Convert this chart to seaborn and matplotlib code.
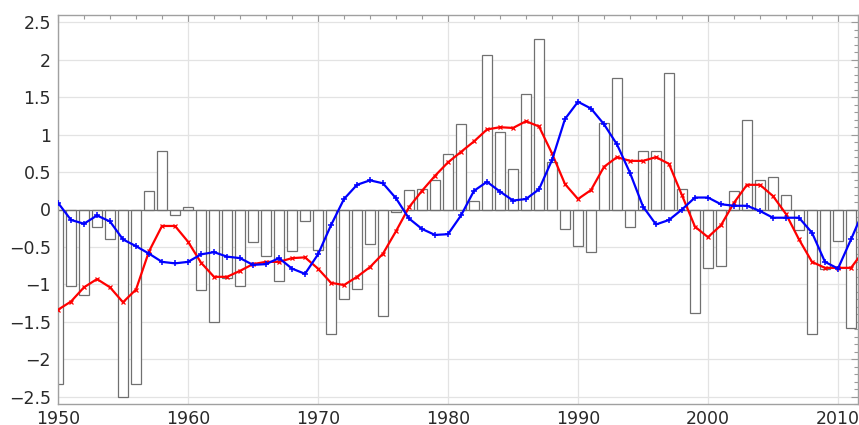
import numpy as np
import pandas as pd
import matplotlib
matplotlib.use("Agg")
import matplotlib.pyplot as plt
import seaborn as sns
from matplotlib.ticker import MultipleLocator

years = list(range(1950, 2012))
bar_vals = [-2.33, -1.02, -1.14, -0.24, -0.40, -2.51, -2.33, 0.25, 0.78, -0.07,
            0.04, -1.07, -1.51, -0.91, -1.02, -0.43, -0.62, -0.96, -0.55, -0.16,
            -0.54, -1.67, -1.20, -1.06, -0.46, -1.43, -0.03, 0.26, 0.27, 0.39,
            0.74, 1.14, 0.12, 2.06, 1.03, 0.54, 1.54, 2.28, 0.64, -0.26,
            -0.49, -0.57, 1.15, 1.76, -0.23, 0.78, 0.78, 1.82, 0.28, -1.38,
            -0.78, -0.75, 0.25, 1.20, 0.40, 0.44, 0.20, -0.28, -1.67, -0.80,
            -0.42, -1.59]

line_years = list(range(1950, 2013))
red_vals = [-1.34, -1.23, -1.04, -0.93, -1.04, -1.24, -1.07, -0.56, -0.22, -0.22,
            -0.43, -0.71, -0.90, -0.90, -0.82, -0.73, -0.70, -0.70, -0.65, -0.64,
            -0.79, -0.98, -1.01, -0.90, -0.77, -0.59, -0.29, 0.03, 0.25, 0.45,
            0.63, 0.77, 0.91, 1.07, 1.10, 1.09, 1.18, 1.11, 0.75, 0.34,
            0.14, 0.26, 0.57, 0.70, 0.65, 0.65, 0.70, 0.61, 0.19, -0.23,
            -0.37, -0.21, 0.09, 0.33, 0.33, 0.18, -0.06, -0.40, -0.70, -0.78,
            -0.78, -0.78, -0.55]
blue_vals = [0.09, -0.14, -0.19, -0.08, -0.16, -0.40, -0.49, -0.59, -0.70, -0.72,
             -0.70, -0.60, -0.57, -0.63, -0.65, -0.74, -0.73, -0.65, -0.79, -0.86,
             -0.60, -0.21, 0.14, 0.33, 0.39, 0.35, 0.15, -0.12, -0.26, -0.34,
             -0.33, -0.08, 0.25, 0.37, 0.24, 0.12, 0.14, 0.27, 0.66, 1.21,
             1.44, 1.35, 1.14, 0.87, 0.49, 0.04, -0.20, -0.14, 0.00, 0.16,
             0.16, 0.07, 0.05, 0.05, -0.02, -0.11, -0.11, -0.11, -0.31, -0.70,
             -0.79, -0.40, 0.00]

sns.set_style("white")
plt.rcParams['font.family'] = ['DejaVu Sans']

fig = plt.figure(figsize=(8.59, 4.25), dpi=100)
ax = fig.add_axes([58 / 859, 1 - 404 / 425, 800 / 859, 389 / 425])

bars_df = pd.DataFrame({"year": years, "value": bar_vals})
sns.barplot(data=bars_df, x="year", y="value", native_scale=True, width=0.82,
            color="white", saturation=1, edgecolor="#707070", linewidth=0.9,
            errorbar=None, ax=ax, zorder=2)
ax.axhline(0, color="#707070", lw=0.9, zorder=2.5)

lines_df = pd.DataFrame({"year": line_years, "red": red_vals, "blue": blue_vals})
sns.lineplot(data=lines_df, x="year", y="red", color="red", marker="x",
             markersize=3, markeredgewidth=0.9, markeredgecolor="red",
             lw=1.6, ax=ax, zorder=3)
sns.lineplot(data=lines_df, x="year", y="blue", color="blue", marker="+",
             markersize=4.5, markeredgewidth=1.1, markeredgecolor="blue",
             lw=1.6, ax=ax, zorder=3)

ax.set_xlim(1950, 2011.54)
ax.set_ylim(-2.6, 2.6)
ax.xaxis.set_major_locator(MultipleLocator(10))
ax.xaxis.set_minor_locator(MultipleLocator(2))
ax.yaxis.set_minor_locator(MultipleLocator(0.1))
ax.set_yticks(np.arange(-2.5, 2.51, 0.5))
ax.set_yticklabels(["\u22122.5", "\u22122", "\u22121.5", "\u22121", "\u22120.5",
                    "0", "0.5", "1", "1.5", "2", "2.5"])
ax.grid(True, which="major", color="#e3e3e3", lw=0.9)
ax.set_axisbelow(True)
ax.tick_params(which="both", direction="in", top=True, right=True,
               colors="#9a9a9a", labelcolor="#2a2a2a", labelsize=12.5)
ax.tick_params(which="major", length=5, width=0.8)
ax.tick_params(which="minor", length=3, width=0.8)
ax.tick_params(axis="x", pad=4)
ax.tick_params(axis="y", pad=5)
for s in ax.spines.values():
    s.set_color("#a0a0a0")
    s.set_linewidth(1.0)
ax.set_xlabel("")
ax.set_ylabel("")

fig.savefig("out.png", dpi=100)
